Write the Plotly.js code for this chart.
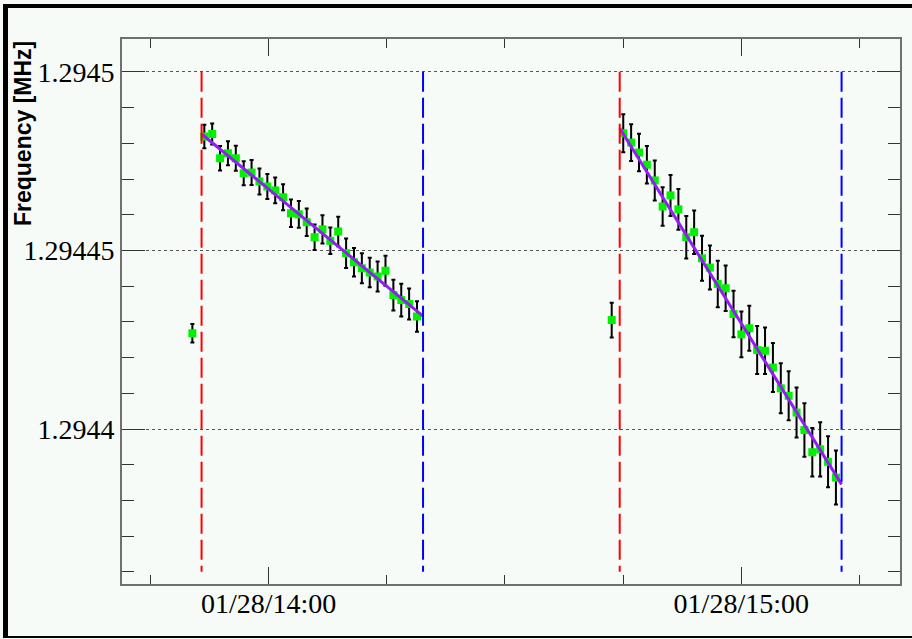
<!DOCTYPE html>
<html>
<head>
<meta charset="utf-8">
<script src="https://cdn.plot.ly/plotly-3.0.1.min.js"></script>
<style>
  html, body { margin: 0; padding: 0; background: #f6fbf8; overflow: hidden; }
  #chart { width: 912px; height: 639px; }
  #frame { position: absolute; left: 3px; top: 4px; width: 920px; height: 628px;
           border-top: 4px solid #000; border-left: 5px solid #000; border-bottom: 2px solid #000;
           pointer-events: none; }
</style>
</head>
<body>
<div id="chart"></div>
<div id="frame"></div>
<script>
// ---- data ----
const run1Times = [
  "2013-01-28 13:51:50","2013-01-28 13:52:50","2013-01-28 13:53:50","2013-01-28 13:54:50",
  "2013-01-28 13:55:50","2013-01-28 13:56:50","2013-01-28 13:57:50","2013-01-28 13:58:50",
  "2013-01-28 13:59:50","2013-01-28 14:00:50","2013-01-28 14:01:50","2013-01-28 14:02:50",
  "2013-01-28 14:03:50","2013-01-28 14:04:50","2013-01-28 14:05:50","2013-01-28 14:06:50",
  "2013-01-28 14:07:50","2013-01-28 14:08:50","2013-01-28 14:09:50","2013-01-28 14:10:50",
  "2013-01-28 14:11:50","2013-01-28 14:12:50","2013-01-28 14:13:50","2013-01-28 14:14:50",
  "2013-01-28 14:15:50","2013-01-28 14:16:50","2013-01-28 14:17:50","2013-01-28 14:18:50"
];
const run1Freq = [
  1.2944819, 1.2944826, 1.2944758, 1.2944772, 1.2944758, 1.2944716, 1.2944718, 1.2944693,
  1.2944679, 1.2944668, 1.2944649, 1.2944604, 1.2944601, 1.2944579, 1.2944537, 1.2944559,
  1.2944527, 1.2944553, 1.2944492, 1.2944467, 1.2944450, 1.2944438, 1.2944427, 1.2944443,
  1.2944375, 1.2944361, 1.2944350, 1.2944315
];
const run1Err = [
  3.28e-6, 2.94e-6, 3.42e-6, 3.36e-6, 3.50e-6, 3.36e-6, 3.50e-6, 3.64e-6,
  3.50e-6, 3.59e-6, 3.64e-6, 3.84e-6, 3.73e-6, 3.84e-6, 3.59e-6, 3.98e-6,
  3.73e-6, 4.15e-6, 4.12e-6, 4.01e-6, 4.20e-6, 4.12e-6, 4.20e-6, 4.20e-6,
  4.29e-6, 4.57e-6, 4.34e-6, 4.29e-6
];
const run2Times = [
  "2013-01-28 14:45:01","2013-01-28 14:46:01","2013-01-28 14:47:01","2013-01-28 14:48:01",
  "2013-01-28 14:49:01","2013-01-28 14:50:01","2013-01-28 14:51:01","2013-01-28 14:52:01",
  "2013-01-28 14:53:01","2013-01-28 14:54:01","2013-01-28 14:55:01","2013-01-28 14:56:01",
  "2013-01-28 14:57:01","2013-01-28 14:58:01","2013-01-28 14:59:01","2013-01-28 15:00:01",
  "2013-01-28 15:01:01","2013-01-28 15:02:01","2013-01-28 15:03:01","2013-01-28 15:04:01",
  "2013-01-28 15:05:01","2013-01-28 15:06:01","2013-01-28 15:07:01","2013-01-28 15:08:01",
  "2013-01-28 15:09:01","2013-01-28 15:10:01","2013-01-28 15:11:01","2013-01-28 15:12:01"
];
const run2Freq = [
  1.2944828, 1.2944802, 1.2944774, 1.2944740, 1.2944696, 1.2944623, 1.2944654, 1.2944615,
  1.2944537, 1.2944551, 1.2944478, 1.2944452, 1.2944406, 1.2944394, 1.2944322, 1.2944265,
  1.2944282, 1.2944221, 1.2944219, 1.2944172, 1.2944114, 1.2944093, 1.2944046, 1.2943997,
  1.2943935, 1.2943943, 1.2943908, 1.2943864
];
const run2Err = [
  5.32e-6, 5.13e-6, 5.24e-6, 5.27e-6, 5.60e-6, 5.38e-6, 5.74e-6, 5.69e-6,
  5.97e-6, 6.08e-6, 6.30e-6, 6.16e-6, 6.53e-6, 6.39e-6, 6.50e-6, 6.39e-6,
  6.30e-6, 6.72e-6, 6.53e-6, 6.86e-6, 7.00e-6, 6.86e-6, 7.00e-6, 7.48e-6,
  6.78e-6, 7.62e-6, 7.14e-6, 7.56e-6
];
// isolated reference points before each run
const refTimes = ["2013-01-28 13:50:19", "2013-01-28 14:43:33"];
const refFreq  = [1.2944268, 1.2944305];
const refErr   = [2.6e-6, 4.85e-6];
// fit lines (start, end)
const fit1Times = ["2013-01-28 13:51:29", "2013-01-28 14:19:36"];
const fit1Freq  = [1.2944826, 1.2944316];
const fit2Times = ["2013-01-28 14:44:34", "2013-01-28 15:12:44"];
const fit2Freq  = [1.2944842, 1.2943845];
// run start (red) and end (blue) markers
const startTimes = ["2013-01-28 13:51:29", "2013-01-28 14:44:34"];
const endTimes   = ["2013-01-28 14:19:36", "2013-01-28 15:12:44"];
const markerSpan = [1.2945, 1.29436];
// axes
const xRange = ["2013-01-28 13:41:23", "2013-01-28 15:20:09"];
const yRange = [1.2943566, 1.2945092];
const yTickVals = [1.2944, 1.29445, 1.2945];
const yTickText = ["1.2944", "1.29445", "1.2945"];
const yTitle = "Frequency [MHz]";

// ---- traces ----
const green = "#00f000";
function pts(x, y, e) {
  return {
    x: x, y: y, type: "scatter", mode: "markers",
    marker: { symbol: "square", size: 8, color: green },
    error_y: { type: "data", array: e, visible: true, color: "#000", thickness: 2, width: 2 },
    showlegend: false, hoverinfo: "skip"
  };
}
const traces = [
  pts(refTimes, refFreq, refErr),
  pts(run1Times, run1Freq, run1Err),
  pts(run2Times, run2Freq, run2Err),
  { x: fit1Times, y: fit1Freq, type: "scatter", mode: "lines",
    line: { color: "#9020f0", width: 3 }, showlegend: false, hoverinfo: "skip" },
  { x: fit2Times, y: fit2Freq, type: "scatter", mode: "lines",
    line: { color: "#9020f0", width: 3 }, showlegend: false, hoverinfo: "skip" }
];
startTimes.forEach(t => traces.push({
  x: [t, t], y: markerSpan, type: "scatter", mode: "lines",
  line: { color: "#ff0000", width: 2, dash: "20px,6px" }, showlegend: false, hoverinfo: "skip"
}));
endTimes.forEach(t => traces.push({
  x: [t, t], y: markerSpan, type: "scatter", mode: "lines",
  line: { color: "#0000ff", width: 2, dash: "20px,6px" }, showlegend: false, hoverinfo: "skip"
}));

const tickFont = { family: "Liberation Serif, Times New Roman, serif", size: 28, color: "#000" };
const layout = {
  width: 912, height: 639,
  margin: { l: 122, r: 12, t: 39, b: 55, pad: 0 },
  paper_bgcolor: "#f6fbf8", plot_bgcolor: "#f6fbf8",
  showlegend: false,
  xaxis: {
    type: "date", range: xRange,
    tickmode: "linear", tick0: "2013-01-28 00:00", dtick: 3600000,
    tickformat: "%m/%d/%H:%M",
    ticks: "inside", ticklen: 17, tickwidth: 1, tickcolor: "#333",
    ticklabelstandoff: -7,
    minor: { dtick: 900000, tick0: "2013-01-28 00:00", ticks: "inside", ticklen: 9, tickwidth: 1, tickcolor: "#333", showgrid: false },
    showline: true, linecolor: "#707070", linewidth: 2, mirror: "allticks",
    showgrid: false, zeroline: false,
    tickfont: tickFont
  },
  yaxis: {
    range: yRange,
    tickmode: "array", tickvals: yTickVals, ticktext: yTickText,
    ticks: "inside", ticklen: 23, tickwidth: 1, tickcolor: "#333",
    minor: { tickmode: "linear", dtick: 0.00001, tick0: 1.2944, ticks: "inside", ticklen: 12, tickwidth: 1, tickcolor: "#333", showgrid: false },
    showline: true, linecolor: "#707070", linewidth: 2, mirror: "allticks",
    showgrid: true, gridcolor: "#555", gridwidth: 1, griddash: "dot",
    zeroline: false,
    tickfont: tickFont
  },
  annotations: [{
    text: yTitle, xref: "paper", yref: "paper",
    x: -0.127, y: 0.826, xanchor: "center", yanchor: "middle",
    textangle: -90, showarrow: false,
    font: { family: "Liberation Sans, Arial, sans-serif", size: 23, color: "#000", weight: "bold" }
  }]
};

Plotly.newPlot("chart", traces, layout, { displayModeBar: false, staticPlot: true });
</script>
</body>
</html>
